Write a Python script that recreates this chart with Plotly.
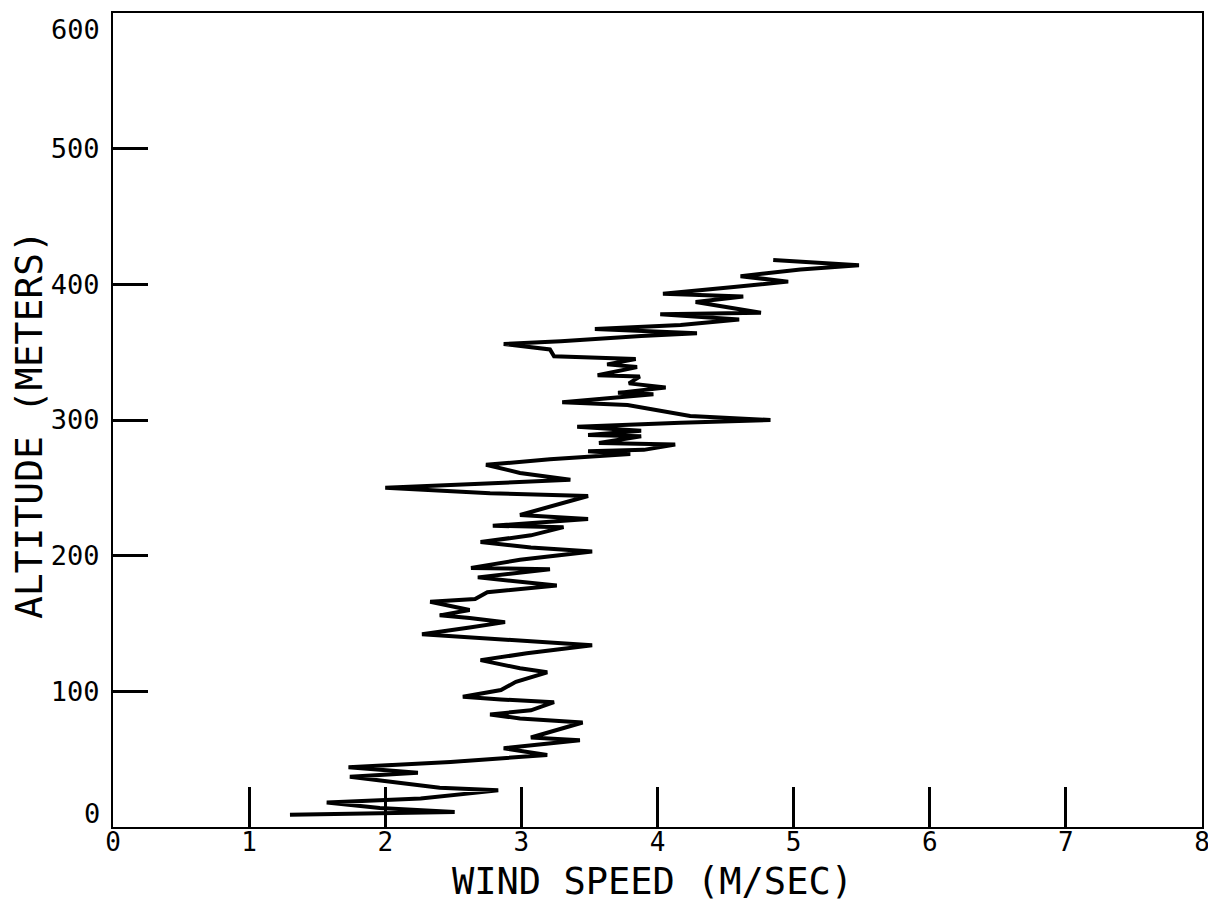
import plotly.graph_objects as go

# wind speed profile, bottom to top
wind_speed = [
    1.30, 2.51, 1.96, 1.57, 2.26, 2.83, 2.40, 2.17, 1.74, 2.24,
    1.73, 2.48, 3.19, 2.87, 3.43, 3.07, 3.29, 3.45, 2.99, 2.77,
    3.07, 3.24, 2.85, 2.57, 2.85, 2.96, 3.19, 2.99, 2.70, 3.04,
    3.52, 2.85, 2.27, 2.62, 2.88, 2.62, 2.40, 2.62, 2.33, 2.66,
    2.75, 3.26, 2.68, 3.21, 2.63, 2.99, 3.52, 3.07, 2.70, 3.07,
    3.31, 2.79, 3.49, 2.99, 3.29, 3.49, 2.77, 2.00, 2.70, 3.36,
    2.99, 2.74, 3.21, 3.80, 3.49, 3.90, 4.13, 3.57, 3.88, 3.49,
    3.88, 3.41, 4.17, 4.83, 4.24, 3.78, 3.30, 3.97, 3.71, 4.06,
    3.79, 3.87, 3.56, 3.85, 3.63, 3.84, 3.24, 3.21, 2.87, 3.29,
    3.88, 4.29, 3.54, 4.17, 4.60, 4.02, 4.76, 4.28, 4.63, 4.04,
    4.56, 4.96, 4.61, 5.05, 5.48, 5.05, 4.85,
]
altitude = [
    9, 11, 14, 18, 21, 27, 29, 32, 37, 40,
    44, 48, 53, 58, 64, 66, 72, 77, 80, 83,
    86, 92, 94, 96, 101, 107, 114, 117, 123, 128,
    134, 138, 142, 147, 151, 154, 156, 160, 166, 168,
    173, 178, 184, 190, 191, 197, 203, 206, 210, 215,
    221, 222, 227, 230, 238, 244, 246, 250, 253, 256,
    261, 267, 271, 275, 277, 278, 282, 283, 288, 289,
    292, 295, 298, 300, 303, 311, 313, 319, 320, 324,
    327, 332, 333, 339, 341, 345, 347, 352, 356, 358,
    362, 364, 367, 370, 374, 378, 379, 387, 391, 393,
    398, 402, 406, 411, 414, 417, 418,
]

x_ticks = [0, 1, 2, 3, 4, 5, 6, 7, 8]
y_ticks = [0, 100, 200, 300, 400, 500, 600]
# end labels of the y axis sit just inside the frame, as on the original plot
y_end_labels = {"0": 9.6, "600": 588}

FONT = "DejaVu Sans Mono, Liberation Mono, monospace"

fig = go.Figure()
fig.add_trace(go.Scatter(x=wind_speed, y=altitude, mode="lines",
                         line=dict(color="black", width=4),
                         showlegend=False))

# page body adds an 8px offset, so the figure is a bit smaller than the window
fig.update_layout(
    width=1208, height=895,
    margin=dict(l=105, r=14, t=5, b=76),
    plot_bgcolor="white", paper_bgcolor="white",
    font=dict(family=FONT, color="black"),
)
fig.update_xaxes(range=[0, 8], tickvals=x_ticks, ticktext=[str(v) for v in x_ticks],
                 ticks="inside", ticklen=40, tickwidth=2.5, tickcolor="black",
                 showline=True, linecolor="black", linewidth=2, mirror=True,
                 showgrid=False, zeroline=False, automargin=False,
                 ticklabeloverflow="allow", ticklabelstandoff=-9,
                 tickfont=dict(size=26))
fig.update_yaxes(range=[0, 600], tickvals=y_ticks,
                 ticktext=["" if str(v) in y_end_labels else str(v) for v in y_ticks],
                 ticks="inside", ticklen=35, tickwidth=2.5, tickcolor="black",
                 showline=True, linecolor="black", linewidth=2, mirror=True,
                 showgrid=False, zeroline=False, automargin=False,
                 ticklabelstandoff=6, ticklabeloverflow="allow",
                 tickfont=dict(size=27))

for label, yv in y_end_labels.items():
    fig.add_annotation(text=label, xref="paper", yref="y", x=0, y=yv,
                       xanchor="right", yanchor="middle", xshift=-11,
                       showarrow=False, font=dict(size=27))

fig.add_annotation(text="WIND SPEED (M/SEC)", xref="paper", yref="paper",
                   x=0.495, y=-0.067, showarrow=False,
                   font=dict(size=37), xanchor="center", yanchor="middle")
fig.add_annotation(text="ALTITUDE (METERS)", xref="paper", yref="paper",
                   x=-0.077, y=0.494, showarrow=False, textangle=-90,
                   font=dict(size=38), xanchor="center", yanchor="middle")

fig.write_html("out.html")
